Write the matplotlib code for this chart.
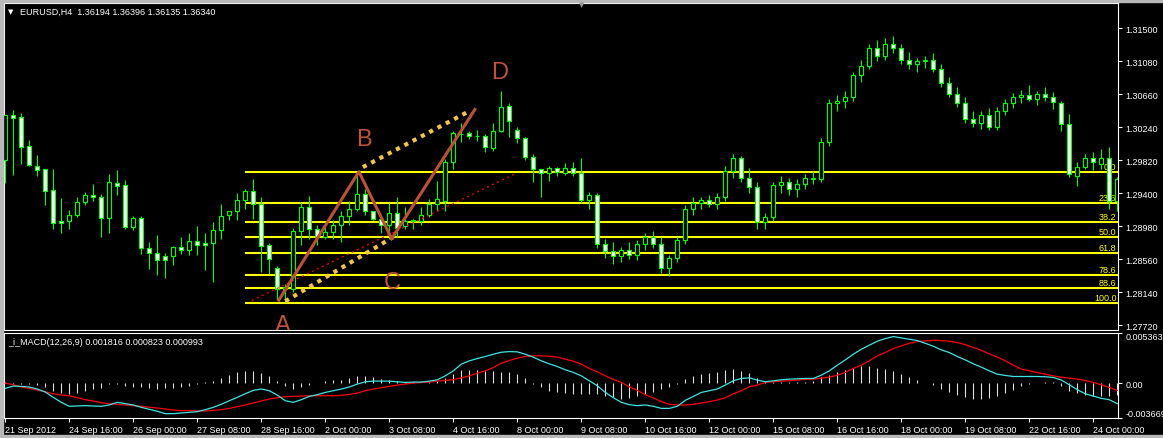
import matplotlib
matplotlib.use('Agg')
import matplotlib.pyplot as plt
from matplotlib.patches import Rectangle
import numpy as np

plt.rcParams['font.family'] = ['Liberation Sans', 'DejaVu Sans']

# EURUSD H4 bars, 21 Sep 2012 -> 24 Oct 2012
opens = [1.29829, 1.30397, 1.30368, 1.29999, 1.29745, 1.29711, 1.29444, 1.29047, 1.29042, 1.29118,
         1.29283, 1.29377, 1.29352, 1.29085, 1.29533, 1.29504, 1.28972, 1.29089, 1.28704, 1.28640,
         1.28602, 1.28597, 1.28717, 1.28673, 1.28793, 1.28767, 1.28767, 1.28936, 1.29118, 1.29174,
         1.29313, 1.29435, 1.29266, 1.28737, 1.28450, 1.28187, 1.28187, 1.28915, 1.29225, 1.28940,
         1.28844, 1.28908, 1.28991, 1.29110, 1.29203, 1.29390, 1.29169, 1.29068, 1.29000, 1.29152,
         1.28983, 1.29042, 1.29042, 1.29127, 1.29266, 1.29305, 1.29796, 1.30159, 1.30164, 1.30134,
         1.30134, 1.29978, 1.30190, 1.30507, 1.30210, 1.30101, 1.29860, 1.29711, 1.29660, 1.29720,
         1.2966, 1.2972, 1.2966, 1.2932, 1.2938, 1.2876, 1.2866, 1.2860, 1.2868, 1.2862,
         1.2875, 1.2885, 1.2875, 1.2845, 1.2858, 1.2880, 1.2920, 1.2928, 1.2932, 1.2926,
         1.2935, 1.2968, 1.2985, 1.2960, 1.2948, 1.2903, 1.2910, 1.2950, 1.2955, 1.2945,
         1.2952, 1.2960, 1.2958, 1.3005, 1.3055, 1.3058, 1.3062, 1.3090, 1.3102, 1.3125,
         1.3115, 1.3130, 1.3125, 1.3110, 1.3105, 1.3108, 1.3110, 1.3098, 1.3080, 1.3066,
         1.3055, 1.3035, 1.3030, 1.3040, 1.3025, 1.3045, 1.3055, 1.3062, 1.3065, 1.3060,
         1.3066, 1.30625, 1.30549, 1.30283, 1.29626, 1.29733, 1.29847, 1.29774, 1.29847, 1.29308]
highs = [1.30400, 1.30464, 1.30422, 1.30079, 1.29889, 1.29715, 1.29711, 1.29343, 1.29190, 1.29355,
         1.29419, 1.29520, 1.29390, 1.29647, 1.29698, 1.29571, 1.29105, 1.29114, 1.28780, 1.28873,
         1.28644, 1.28729, 1.28844, 1.28898, 1.28983, 1.28898, 1.29034, 1.29266, 1.29178, 1.29406,
         1.29457, 1.29584, 1.29352, 1.28771, 1.28475, 1.28250, 1.28958, 1.29288, 1.29364, 1.28991,
         1.28971, 1.29054, 1.29169, 1.29308, 1.29673, 1.29457, 1.29178, 1.29118, 1.29279, 1.29352,
         1.29225, 1.29076, 1.29225, 1.29330, 1.29559, 1.29838, 1.30197, 1.30295, 1.30197, 1.30206,
         1.30155, 1.30295, 1.30702, 1.30549, 1.30241, 1.30114, 1.29901, 1.29715, 1.29753, 1.29733,
         1.2978, 1.2980, 1.2985, 1.2942, 1.2940, 1.2882, 1.2878, 1.2872, 1.2878, 1.2880,
         1.2890, 1.2892, 1.2885, 1.2862, 1.2885, 1.2925, 1.2935, 1.2935, 1.2938, 1.2940,
         1.2975, 1.2990, 1.2988, 1.2972, 1.2955, 1.2915, 1.2955, 1.2962, 1.2960, 1.2958,
         1.2965, 1.2968, 1.3010, 1.3060, 1.3065, 1.3070, 1.3095, 1.3110, 1.3130, 1.3135,
         1.3138, 1.3140, 1.3130, 1.3120, 1.3112, 1.3115, 1.3118, 1.3105, 1.3088, 1.3075,
         1.3062, 1.3045, 1.3045, 1.3048, 1.3050, 1.3060, 1.3068, 1.3072, 1.3078, 1.3070,
         1.3075, 1.30689, 1.30575, 1.30410, 1.29800, 1.29901, 1.29927, 1.29965, 1.29990, 1.29610]
lows = [1.29533, 1.29635, 1.29774, 1.29753, 1.29626, 1.29245, 1.28940, 1.28889, 1.28949, 1.29093,
        1.29254, 1.29296, 1.28839, 1.28898, 1.29381, 1.28940, 1.28927, 1.28623, 1.28441, 1.28356,
        1.28327, 1.28492, 1.28631, 1.28610, 1.28619, 1.28419, 1.28272, 1.28822, 1.29054, 1.29054,
        1.29194, 1.29076, 1.28399, 1.28377, 1.28038, 1.28016, 1.28145, 1.28737, 1.28822, 1.28746,
        1.28813, 1.28813, 1.28780, 1.29000, 1.29169, 1.29118, 1.29063, 1.28898, 1.28822, 1.28844,
        1.28949, 1.28949, 1.28991, 1.29101, 1.29178, 1.29178, 1.29711, 1.30058, 1.30092, 1.30070,
        1.29923, 1.29943, 1.30177, 1.30114, 1.30041, 1.29829, 1.29550, 1.29352, 1.29562, 1.29626,
        1.2963, 1.2962, 1.2928, 1.2920, 1.2870, 1.2858, 1.2850, 1.2852, 1.2856, 1.2855,
        1.2868, 1.2870, 1.2838, 1.2835, 1.2852, 1.2875, 1.2912, 1.2920, 1.2922, 1.2920,
        1.2930, 1.2960, 1.2955, 1.2940, 1.2895, 1.2895, 1.2905, 1.2940, 1.2938, 1.2935,
        1.2945, 1.2952, 1.2955, 1.3000, 1.3045, 1.3048, 1.3058, 1.3082, 1.3098, 1.3108,
        1.3110, 1.3118, 1.3105, 1.3098, 1.3095, 1.3100, 1.3095, 1.3075, 1.3062, 1.3050,
        1.3030, 1.3025, 1.3022, 1.3020, 1.3020, 1.3040, 1.3048, 1.3055, 1.3058, 1.3052,
        1.3058, 1.30473, 1.30194, 1.29609, 1.29495, 1.29711, 1.29698, 1.29711, 1.29203, 1.29178]
closes = [1.30397, 1.30363, 1.29994, 1.29762, 1.29702, 1.29435, 1.29021, 1.29021, 1.29127, 1.29288,
          1.29381, 1.29347, 1.29085, 1.29542, 1.29499, 1.28972, 1.29089, 1.28700, 1.28640, 1.28546,
          1.28546, 1.28717, 1.28673, 1.28793, 1.28737, 1.28737, 1.28936, 1.29110, 1.29174, 1.29313,
          1.29435, 1.29266, 1.28729, 1.28568, 1.28178, 1.28212, 1.28915, 1.29225, 1.28949, 1.28844,
          1.28908, 1.29000, 1.29110, 1.29203, 1.29390, 1.29169, 1.29068, 1.28991, 1.29152, 1.28958,
          1.29042, 1.29060, 1.29118, 1.29266, 1.29330, 1.29804, 1.30164, 1.30155, 1.30134, 1.30132,
          1.29987, 1.30190, 1.30495, 1.30324, 1.30101, 1.29860, 1.29711, 1.29660, 1.29720, 1.29669,
          1.2972, 1.2966, 1.2932, 1.2938, 1.2876, 1.2866, 1.2860, 1.2868, 1.2862, 1.2875,
          1.2885, 1.2875, 1.2845, 1.2858, 1.2880, 1.2920, 1.2928, 1.2932, 1.2926, 1.2935,
          1.2968, 1.2985, 1.2960, 1.2948, 1.2903, 1.2910, 1.2950, 1.2955, 1.2945, 1.2952,
          1.2960, 1.2958, 1.3005, 1.3055, 1.3058, 1.3062, 1.3090, 1.3102, 1.3125, 1.3115,
          1.3130, 1.3125, 1.3110, 1.3105, 1.3108, 1.3110, 1.3098, 1.3080, 1.3066, 1.3055,
          1.3035, 1.3030, 1.3040, 1.3025, 1.3045, 1.3055, 1.3062, 1.3065, 1.3060, 1.3066,
          1.3062, 1.30562, 1.30283, 1.29647, 1.29733, 1.29847, 1.29796, 1.29847, 1.29308, 1.29584]

# _i_MACD(12,26,9) buffers, in units of 0.0001
macd_main = [-5.6, -3.2, -3.5, -4.2, -6.3, -9.5, -15.1, -20.4, -24.6, -24.3,
             -23.9, -24.3, -24.6, -23.2, -20.4, -21.8, -23.2, -25.7, -27.8, -29.9,
             -32.4, -32.4, -31.7, -31.0, -30.3, -28.2, -25.7, -22.5, -18.7, -15.1,
             -11.3, -7.7, -6.3, -8.1, -12.7, -18.7, -20.4, -17.6, -14.1, -12.3,
             -9.9, -8.1, -6.3, -4.2, -1.1, 1.4, 2.1, 2.1, 2.1, 1.4,
             0.7, 1.1, 1.1, 2.1, 3.5, 7.7, 13.0, 20.1, 23.6, 26.0,
             28.2, 30.6, 32.7, 33.4, 33.1, 30.6, 27.5, 23.6, 20.4, 17.6,
             14.1, 11.3, 7.7, 2.5, -2.8, -9.9, -15.5, -20.4, -22.9, -23.9,
             -23.2, -24.6, -26.8, -26.8, -24.6, -18.3, -14.1, -9.9, -8.1, -6.3,
             -2.1, 2.5, 4.9, 5.6, 3.2, 1.4, 2.5, 3.5, 4.2, 4.6,
             4.9, 4.9, 8.4, 13.0, 19.0, 24.6, 30.6, 35.9, 40.1, 44.4,
             47.2, 49.3, 47.9, 46.5, 45.1, 42.2, 39.1, 35.2, 32.4, 28.2,
             24.6, 20.4, 16.9, 13.0, 9.5, 8.1, 7.0, 7.0, 7.0, 7.0,
             6.7, 6.0, 3.2, -1.8, -7.0, -11.3, -13.7, -16.2, -17.6, -21.8]
macd_signal = [0.0, -1.8, -4.2, -5.6, -7.4, -9.2, -11.3, -12.7, -13.4, -15.5,
               -17.6, -19.0, -20.8, -21.8, -22.5, -23.2, -23.9, -24.6, -25.7, -26.4,
               -27.5, -28.5, -29.2, -29.2, -29.6, -29.6, -28.9, -28.2, -26.8, -25.0,
               -23.2, -21.1, -19.0, -16.9, -15.5, -14.4, -14.1, -13.7, -13.4, -13.4,
               -13.4, -13.4, -13.0, -12.0, -10.6, -8.1, -6.3, -4.9, -3.5, -2.1,
               -1.1, 0.0, 0.7, 1.1, 2.1, 2.8, 3.5, 5.6, 7.7, 10.6,
               13.0, 16.5, 21.1, 23.9, 26.4, 28.2, 28.9, 28.9, 28.5, 27.5,
               25.3, 23.2, 20.1, 15.5, 12.0, 7.7, 3.9, 0.7, -3.9, -7.7,
               -12.3, -15.8, -19.7, -22.5, -23.2, -23.2, -22.5, -21.1, -19.7, -18.0,
               -15.5, -11.3, -8.1, -3.9, -2.1, 0.7, 1.4, 2.1, 2.5, 3.2,
               3.9, 4.2, 5.3, 6.3, 8.4, 11.3, 15.5, 19.0, 23.6, 28.9,
               32.4, 36.6, 39.4, 42.2, 44.0, 44.7, 45.4, 45.1, 44.4, 42.9,
               40.8, 37.7, 34.8, 31.0, 27.5, 23.6, 19.0, 14.8, 13.0, 11.3,
               9.5, 7.7, 6.3, 5.3, 4.2, 2.8, 0.7, -1.8, -4.6, -7.7]
macd_hist = [0.7, -0.7, -0.7, -1.4, -2.1, -4.6, -8.1, -10.6, -11.6, -10.6,
             -8.1, -6.3, -5.6, -1.4, -0.7, -2.8, -3.9, -4.6, -5.6, -6.3,
             -5.6, -4.9, -4.2, -2.8, -1.4, 0.7, 2.5, 5.6, 8.4, 11.3,
             12.7, 12.7, 10.6, 7.0, 2.1, -2.8, -6.3, -4.6, -2.1, -0.4,
             2.1, 2.8, 3.5, 4.9, 7.0, 7.7, 6.3, 4.2, 2.8, 2.1,
             1.4, 0.7, 0.4, 0.7, 2.1, 5.6, 9.9, 14.1, 14.1, 14.1,
             13.0, 12.7, 12.0, 11.3, 9.9, 4.9, -1.1, -4.6, -8.1, -9.2,
             -10.6, -11.3, -11.6, -11.6, -12.0, -13.4, -15.1, -16.9, -16.2, -14.1,
             -11.6, -9.9, -6.3, -4.6, -1.1, 4.2, 7.0, 9.2, 10.6, 12.0,
             14.1, 14.8, 13.0, 10.6, 4.9, 2.1, 1.4, 0.7, 0.7, 0.7,
             1.4, 2.5, 6.0, 8.4, 11.3, 14.1, 16.5, 17.6, 17.6, 16.5,
             14.8, 13.0, 9.5, 6.0, 2.8, 0.0, -2.1, -6.3, -9.2, -12.7,
             -15.1, -16.9, -16.9, -16.2, -13.4, -10.6, -7.0, -2.8, -1.4, 0.0,
             0.7, 1.4, -2.8, -8.1, -10.6, -12.7, -14.1, -14.1, -13.4, -12.7]

# time axis: a label every 8 bars
date_labels = ['21 Sep 2012', '24 Sep 16:00', '26 Sep 00:00', '27 Sep 08:00', '28 Sep 16:00',
               '2 Oct 00:00', '3 Oct 08:00', '4 Oct 16:00', '8 Oct 00:00', '9 Oct 08:00',
               '10 Oct 16:00', '12 Oct 00:00', '15 Oct 08:00', '16 Oct 16:00', '18 Oct 00:00',
               '19 Oct 08:00', '22 Oct 16:00', '24 Oct 00:00']
price_ticks = [1.31500, 1.31080, 1.30660, 1.30240, 1.29820, 1.29400, 1.28980, 1.28560, 1.28140, 1.27720]
macd_ticks = [-0.003669, 0.0, 0.005363]
macd_tick_labels = ['-0.003669', '0.00', '0.005363']

# fibo retracement object
fib_levels = [0.0, 23.6, 38.2, 50.0, 61.8, 78.6, 88.6, 100.0]
fib_high = 1.29675
fib_low = 1.28008
fib_start = 29.96

# hand drawn ABCD pattern (bar index, price)
abcd_names = ['A', 'B', 'C', 'D']
abcd_bars = [34.2, 44.2, 48.3, 58.7]
abcd_prices = [1.28041, 1.29675, 1.28822, 1.30467]
# dotted channel lines A-C and B-D, plus the fibo baseline
ac_bars, ac_prices = [35.0, 48.5], [1.28026, 1.28844]
bd_bars, bd_prices = [44.7, 58.1], [1.29733, 1.30451]
base_bars, base_prices = [30.8, 63.7], [1.28034, 1.29648]

W, H = 1163, 439
GREEN = '#00ff00'


def px_box(x0, y0, x1, y1):
    # axes rectangle from pixel corners (origin top-left)
    return [x0 / W, 1 - y1 / H, (x1 - x0) / W, (y1 - y0) / H]


fig = plt.figure(figsize=(W / 100, H / 100), dpi=100, facecolor='black')
ax = fig.add_axes(px_box(3.5, 3.5, 1118, 330.5), facecolor='black')
ax2 = fig.add_axes(px_box(3.5, 333.5, 1118, 418.7), facecolor='black')

# window frame
for r in [(0, 0, W, 2.5), (0, 0, 2.5, H), (0, 435.5, W, 3.5)]:
    fig.patches.append(Rectangle((r[0] / W, 1 - (r[1] + r[3]) / H), r[2] / W, r[3] / H,
                                 transform=fig.transFigure, color='#b8b8b8', zorder=0))

n = len(opens)
xs = np.arange(n)

# candles
ax.vlines(xs, lows, highs, color=GREEN, lw=0.8, zorder=3)
for i in range(n):
    o, c = opens[i], closes[i]
    face = 'black' if c > o else 'white'
    ax.add_patch(Rectangle((i - 0.25, min(o, c)), 0.5, max(abs(c - o), 0.00002),
                           facecolor=face, edgecolor=GREEN, lw=0.8, zorder=4))

# fibo levels (background)
for lvl in fib_levels:
    p = fib_high - (fib_high - fib_low) * lvl / 100
    ax.hlines(p, fib_start, n + 5, color='#ffff00', lw=1.5, zorder=1)
    ax.annotate(f'{lvl:.1f}', xy=(1, p), xycoords=('axes fraction', 'data'),
                xytext=(-1.5, 1), textcoords='offset pixels', ha='right', va='bottom',
                color='#ffff00', fontsize=6.5, zorder=1)

ax.plot(base_bars, base_prices, color='#ff0000', lw=0.8, ls=(0, (2, 3)), zorder=5)
ax.plot(ac_bars, ac_prices, color='#f4c44a', lw=3.0, ls=(0, (1, 1.25)), zorder=6)
ax.plot(bd_bars, bd_prices, color='#f4c44a', lw=3.0, ls=(0, (1, 1.25)), zorder=6)
ax.plot(abcd_bars, abcd_prices, color='#bb5236', lw=2.2, zorder=7)

label_offsets = [(4, -25), (5, 33), (1, -43), (25, 37)]
for name, bx, py, off in zip(abcd_names, abcd_bars, abcd_prices, label_offsets):
    ax.annotate(name, xy=(bx, py), xytext=off, textcoords='offset pixels',
                ha='center', va='center', color='#c0533a', fontsize=17,
                annotation_clip=False, clip_on=True, zorder=8)

ax.set_xlim((3.5 - 5.3) / 8, (1118 - 5.3) / 8)
ax.set_ylim(1.276666, 1.318284)
ax.set_xticks([])
ax.yaxis.tick_right()
ax.set_yticks(price_ticks)
ax.set_yticklabels([f'{p:.5f}' for p in price_ticks])
ax.tick_params(axis='y', colors='white', labelsize=6.5, length=3, width=0.8, pad=2.5)

# MACD window
m = np.array(macd_main) * 1e-4
s = np.array(macd_signal) * 1e-4
hst = np.array(macd_hist) * 1e-4
ax2.vlines(xs, 0, hst, color='#e0e0e0', lw=0.8, zorder=2)
ax2.plot(xs, s, color='#ff0000', lw=0.9, zorder=3)
ax2.plot(xs, m, color='#3ce6e6', lw=0.9, zorder=4)
ax2.set_xlim(ax.get_xlim())
ax2.set_ylim(-0.003669, 0.005363)
ax2.yaxis.tick_right()
ax2.set_yticks(macd_ticks)
ax2.set_yticklabels(macd_tick_labels)
ylabs = ax2.get_yticklabels()
ylabs[0].set_va('bottom')
ylabs[2].set_va('top')
ax2.tick_params(axis='y', colors='white', labelsize=6.5, length=3, width=0.8, pad=2.5)
ax2.set_xticks(np.arange(len(date_labels)) * 8)
ax2.set_xticklabels(date_labels)
for t in ax2.get_xticklabels():
    t.set_ha('left')
ax2.tick_params(axis='x', colors='white', labelsize=6.5, length=3, width=0.8, pad=2)

for a in (ax, ax2):
    for sp in a.spines.values():
        sp.set_color('white')
        sp.set_linewidth(0.8)

fig.text(8 / W, 1 - 12 / H, '\u25bc', color='white', fontsize=5, va='center', family='DejaVu Sans')
fig.text(20 / W, 1 - 12 / H, 'EURUSD,H4  1.36194 1.36396 1.36135 1.36340',
         color='white', fontsize=6.5, va='center')
fig.text(582 / W, 1 - 5 / H, '\u25bc', color='#9a9a9a', fontsize=5, va='center', ha='center',
         family='DejaVu Sans')
fig.text(8 / W, 1 - 342.5 / H, '_i_MACD(12,26,9) 0.001816 0.000823 0.000993',
         color='white', fontsize=6.5, va='center')

fig.savefig('out.png', dpi=100, facecolor='black')
